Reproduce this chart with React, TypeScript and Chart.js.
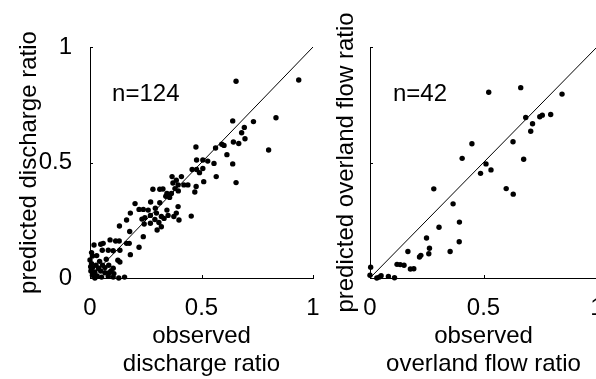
import React, { useEffect, useRef } from "react";
import { Chart, registerables } from "chart.js";

Chart.register(...registerables);

const FONT = '"Liberation Sans", Arial, Helvetica, sans-serif';

// Left panel: discharge ratio (n=124)
const dischargeObserved = [
  0.655, 0.936, 0.834, 0.733, 0.640, 0.692, 0.680, 0.695, 0.643, 0.667,
  0.801, 0.601, 0.591, 0.563, 0.475, 0.614, 0.478, 0.506, 0.528, 0.556,
  0.640, 0.478, 0.458, 0.491, 0.506, 0.566, 0.510, 0.655, 0.410, 0.368,
  0.387, 0.372, 0.395, 0.421, 0.439, 0.476, 0.470, 0.381, 0.396, 0.365,
  0.345, 0.327, 0.313, 0.282, 0.357, 0.340, 0.272, 0.313, 0.202, 0.220,
  0.261, 0.239, 0.293, 0.395, 0.345, 0.298, 0.181, 0.350, 0.387, 0.271,
  0.320, 0.332, 0.376, 0.454, 0.246, 0.233, 0.164, 0.291, 0.399, 0.243,
  0.271, 0.309, 0.320, 0.301, 0.178, 0.132, 0.239, 0.090, 0.115, 0.131,
  0.164, 0.176, 0.059, 0.018, 0.048, 0.220, 0.055, 0.082, 0.104, 0.134,
  0.181, 0.007, 0.011, 0.030, 0.125, 0.134, 0.073, 0.043, 0.007, 0.027,
  0.056, 0.084, 0.011, 0.038, 0.067, 0.104, 0.004, 0.022, 0.048, 0.067,
  0.086, 0.107, 0.011, 0.032, 0.052, 0.082, 0.104, 0.129, 0.155, 0.022,
  0.000, 0.003, 0.016, 0.094,
];
const dischargePredicted = [
  0.852, 0.857, 0.694, 0.677, 0.680, 0.652, 0.629, 0.603, 0.589, 0.582,
  0.554, 0.574, 0.579, 0.563, 0.567, 0.534, 0.511, 0.511, 0.506, 0.496,
  0.494, 0.470, 0.470, 0.456, 0.474, 0.439, 0.417, 0.413, 0.439, 0.439,
  0.423, 0.411, 0.403, 0.403, 0.403, 0.396, 0.372, 0.387, 0.377, 0.366,
  0.366, 0.385, 0.384, 0.384, 0.349, 0.354, 0.329, 0.326, 0.322, 0.297,
  0.294, 0.297, 0.302, 0.309, 0.294, 0.281, 0.281, 0.271, 0.281, 0.271,
  0.266, 0.258, 0.266, 0.268, 0.261, 0.255, 0.251, 0.253, 0.251, 0.234,
  0.237, 0.240, 0.222, 0.208, 0.201, 0.225, 0.179, 0.165, 0.160, 0.160,
  0.150, 0.150, 0.150, 0.143, 0.146, 0.133, 0.120, 0.120, 0.118, 0.120,
  0.101, 0.110, 0.095, 0.097, 0.077, 0.069, 0.081, 0.072, 0.062, 0.055,
  0.055, 0.055, 0.045, 0.042, 0.045, 0.042, 0.030, 0.026, 0.030, 0.023,
  0.023, 0.019, 0.012, 0.009, 0.004, 0.007, 0.004, 0.000, 0.004, 0.000,
  0.078, 0.049, 0.020, 0.030,
];

// Right panel: overland flow ratio (n=42)
const overlandObserved = [
  0.523, 0.664, 0.846, 0.686, 0.716, 0.748, 0.759, 0.796, 0.708, 0.630,
  0.449, 0.406, 0.677, 0.511, 0.533, 0.487, 0.281, 0.600, 0.631, 0.366,
  0.394, 0.304, 0.249, 0.393, 0.262, 0.167, 0.353, 0.224, 0.218, 0.259,
  0.178, 0.193, 0.119, 0.133, 0.150, 0.003, 0.000, 0.030, 0.041, 0.049,
  0.081, 0.108,
];
const overlandPredicted = [
  0.804, 0.824, 0.796, 0.695, 0.668, 0.698, 0.705, 0.708, 0.635, 0.590,
  0.581, 0.518, 0.514, 0.494, 0.468, 0.453, 0.386, 0.387, 0.363, 0.321,
  0.242, 0.220, 0.173, 0.157, 0.129, 0.115, 0.115, 0.098, 0.091, 0.105,
  0.039, 0.040, 0.059, 0.058, 0.055, 0.047, 0.012, 0.000, 0.004, 0.010,
  0.007, 0.001,
];

const tickValues = [0, 0.5, 1];
const identityLine = [0, 1];

const leftXTitle = ["observed", "discharge ratio"];
const leftYTitle = "predicted discharge ratio";
const rightXTitle = ["observed", "overland flow ratio"];
const rightYTitle = "predicted overland flow ratio";
const leftCount = "n=124";
const rightCount = "n=42";

type PanelProps = {
  left: number;
  width: number;
  yScaleWidth: number;
  padRight: number;
  showYTicks: boolean;
  yTitlePad: number;
  xTitle: string[];
  yTitle: string;
  xs: number[];
  ys: number[];
  countLabel: string;
  countPos: [number, number];
};

const decorPlugin = {
  id: "decor",
  afterDraw(chart: any, _args: any, opts: any) {
    const ctx = chart.ctx as CanvasRenderingContext2D;
    const xs = chart.scales.x;
    const ys = chart.scales.y;
    ctx.save();
    ctx.strokeStyle = "#000";
    ctx.lineWidth = 1;
    ctx.beginPath();
    tickValues.forEach((v) => {
      const px = Math.round(xs.getPixelForValue(v)) + 0.5;
      ctx.moveTo(px, ys.bottom);
      ctx.lineTo(px, ys.bottom - 3);
      const py = Math.round(ys.getPixelForValue(v)) + 0.5;
      ctx.moveTo(xs.left, py);
      ctx.lineTo(xs.left + 3, py);
    });
    ctx.stroke();
    ctx.fillStyle = "#000";
    ctx.font = `24px ${FONT}`;
    ctx.textBaseline = "middle";
    ctx.textAlign = "left";
    ctx.fillText(
      opts.label,
      xs.getPixelForValue(opts.pos[0]),
      ys.getPixelForValue(opts.pos[1])
    );
    ctx.restore();
  },
};

const fmt = (v: any) => String(Number(v));

function Panel(p: PanelProps) {
  const ref = useRef<HTMLCanvasElement | null>(null);
  useEffect(() => {
    if (!ref.current) return;
    const points = p.xs.map((x, i) => ({ x, y: p.ys[i] }));
    const chart = new Chart(ref.current, {
      type: "scatter",
      data: {
        datasets: [
          {
            type: "line",
            data: identityLine.map((v) => ({ x: v, y: v })),
            borderColor: "#000",
            borderWidth: 1,
            pointRadius: 0,
            fill: false,
            tension: 0,
          } as any,
          {
            type: "scatter",
            data: points,
            backgroundColor: "#000",
            borderWidth: 0,
            pointRadius: 2.7,
            clip: false,
          } as any,
        ],
      },
      options: {
        animation: false,
        responsive: false,
        events: [],
        layout: { padding: { left: 0, top: 47, right: p.padRight, bottom: 0 } },
        plugins: {
          legend: { display: false },
          tooltip: { enabled: false },
          decor: { label: p.countLabel, pos: p.countPos },
        } as any,
        scales: {
          x: {
            type: "linear",
            min: 0,
            max: 1,
            grid: { display: false },
            border: { display: true, color: "#000", width: 1 },
            ticks: {
              stepSize: 0.5,
              color: "#000",
              padding: 8,
              maxRotation: 0,
              autoSkip: false,
              callback: fmt,
              font: { family: FONT, size: 24, lineHeight: 1.2 },
            },
            title: {
              display: true,
              text: p.xTitle,
              color: "#000",
              padding: { top: 0, bottom: 1 },
              font: { family: FONT, size: 24, lineHeight: 28 / 24 },
            },
            afterFit: (s: any) => {
              s.height = 101;
            },
          },
          y: {
            type: "linear",
            min: 0,
            max: 1,
            grid: { display: false },
            border: { display: true, color: "#000", width: 1 },
            ticks: {
              display: p.showYTicks,
              stepSize: 0.5,
              color: "#000",
              padding: 10,
              callback: fmt,
              font: { family: FONT, size: 24, lineHeight: 1.2 },
            },
            title: {
              display: true,
              text: p.yTitle,
              color: "#000",
              padding: { top: p.yTitlePad, bottom: 0 },
              font: { family: FONT, size: 24, lineHeight: 28 / 24 },
            },
            afterFit: (s: any) => {
              s.width = p.yScaleWidth;
            },
          },
        },
      } as any,
      plugins: [decorPlugin],
    });
    return () => chart.destroy();
  }, []);
  return (
    <canvas
      ref={ref}
      width={p.width}
      height={379}
      style={{
        position: "absolute",
        left: p.left,
        top: 0,
        width: p.width,
        height: 379,
      }}
    />
  );
}

export default function App() {
  return (
    <div
      style={{
        position: "fixed",
        left: 0,
        top: 0,
        width: 596,
        height: 379,
        overflow: "hidden",
        background: "#fff",
      }}
    >
      <Panel
        left={0}
        width={340}
        yScaleWidth={90}
        padRight={340 - 313}
        showYTicks={true}
        yTitlePad={15}
        xTitle={leftXTitle}
        yTitle={leftYTitle}
        xs={dischargeObserved}
        ys={dischargePredicted}
        countLabel={leftCount}
        countPos={[0.099, 0.794]}
      />
      <Panel
        left={330}
        width={300}
        yScaleWidth={40}
        padRight={300 - 267}
        showYTicks={false}
        yTitlePad={2}
        xTitle={rightXTitle}
        yTitle={rightYTitle}
        xs={overlandObserved}
        ys={overlandPredicted}
        countLabel={rightCount}
        countPos={[0.101, 0.796]}
      />
    </div>
  );
}
